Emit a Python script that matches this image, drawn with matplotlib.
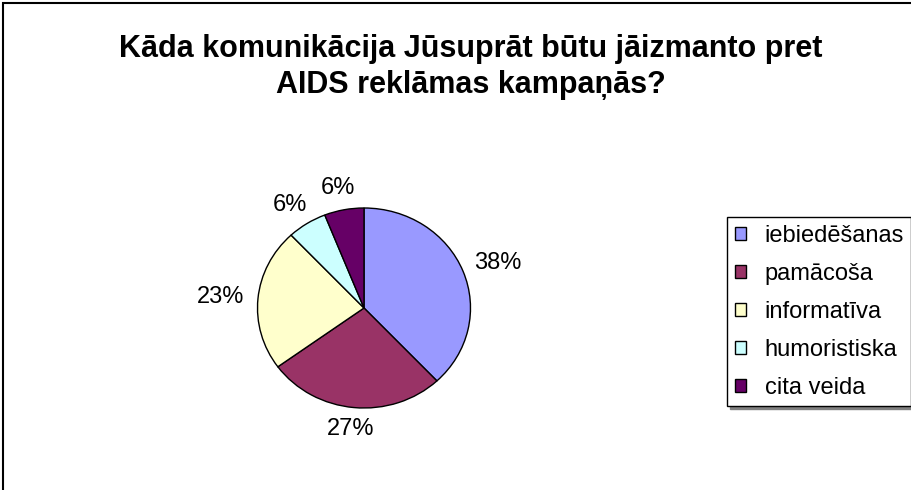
import matplotlib.pyplot as plt
from matplotlib.patches import Rectangle
import numpy as np

# Atbilžu kategorijas un to daļas procentos
kategorijas = ['iebiedēšanas', 'pamācoša', 'informatīva', 'humoristiska', 'cita veida']
procenti = [38, 27, 23, 6, 6]
krasas = ['#9999FF', '#993366', '#FFFFCC', '#CCFFFF', '#660066']
virsraksts = 'Kāda komunikācija Jūsuprāt būtu jāizmanto pret\nAIDS reklāmas kampaņās?'

plt.rcParams['font.family'] = ['Liberation Sans', 'DejaVu Sans']

W, H = 912, 490
FS = 17  # uzrakstu un leģendas fonts
fig = plt.figure(figsize=(W / 100, H / 100), dpi=100)
fig.patch.set_facecolor('white')

# ramis ap visu diagrammu (labā un apakšējā mala ārpus attēla)
fig.add_artist(Rectangle((3 / W, -0.1), 1.2, 1.1 - 3 / H, transform=fig.transFigure,
                         fill=False, edgecolor='black', lw=1.5))

fig.text(471 / W, 1 - 67 / H, virsraksts, ha='center', va='center',
         fontsize=22, fontweight='bold', linespacing=1.3)

# pīrāga ass pikseļos: centrs (364, 308), rādiuss ~106 x 100
cx, cy, rx, ry = 364, 308, 106.5, 100
ax = fig.add_axes([(cx - rx) / W, (H - cy - ry) / H, 2 * rx / W, 2 * ry / H])
wedges, _ = ax.pie(procenti, colors=krasas, startangle=90, counterclock=False,
                   wedgeprops=dict(edgecolor='black', linewidth=1.0))
ax.set_aspect('auto')
ax.set_xlim(-1, 1)
ax.set_ylim(-1, 1)
ax.axis('off')

# procentu uzraksti ārpus pīrāga: teksta rāmis pieskaras lokam nedaudz aiz malas
em = FS * 100 / 72
for w, p in zip(wedges, procenti):
    ang = np.deg2rad((w.theta1 + w.theta2) / 2)
    txt = f'{p}%'
    tw = (0.556 * (len(txt) - 1) + 0.889) * em
    th = 0.75 * em
    ox = np.cos(ang) * tw / 2
    oy = np.sin(ang) * th / 2
    ax.annotate(txt, (1.13 * np.cos(ang), 1.13 * np.sin(ang)),
                xytext=(ox, oy), textcoords='offset pixels',
                ha='center', va='center', fontsize=FS, annotation_clip=False)

leg = fig.legend(wedges, kategorijas, loc='upper left',
                 bbox_to_anchor=(727 / W, 1 - 217 / H), borderaxespad=0,
                 fontsize=FS, frameon=True, fancybox=False,
                 shadow={'color': '0.5', 'alpha': 1},
                 handlelength=0.47, handleheight=0.47, handletextpad=0.8,
                 borderpad=0.32, labelspacing=0.68)
leg.get_frame().set_edgecolor('black')
leg.get_frame().set_linewidth(1.0)
for h in leg.legend_handles:
    h.set_edgecolor('black')
    h.set_linewidth(1.0)

fig.savefig('out.png', dpi=100)
